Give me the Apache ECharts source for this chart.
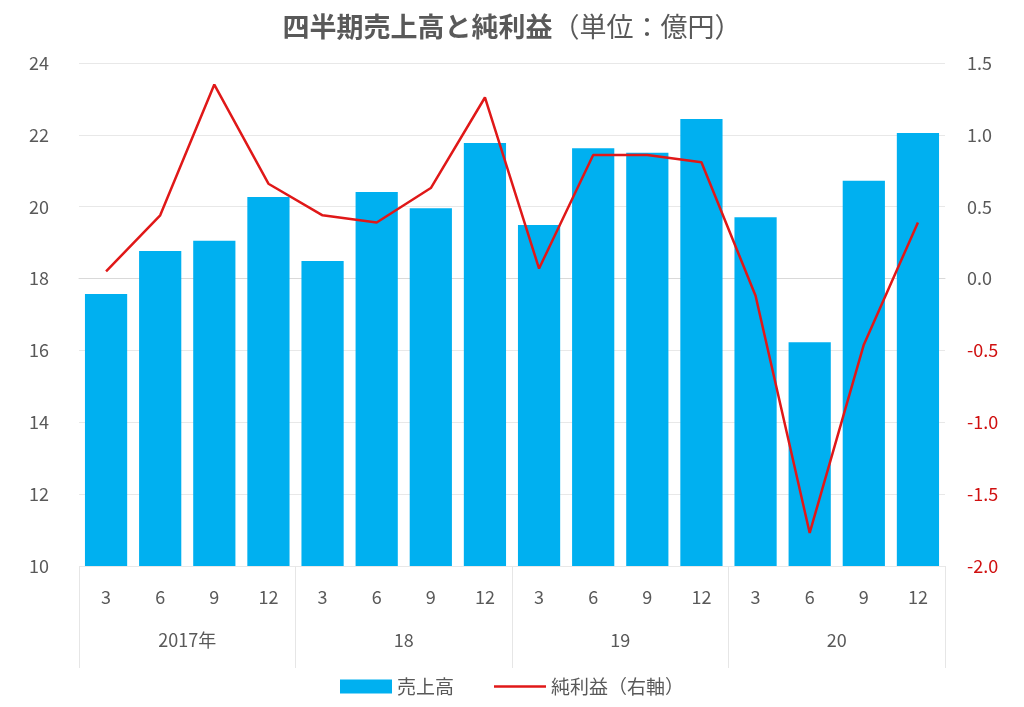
<!DOCTYPE html>
<html><head><meta charset="utf-8">
<script src="https://cdn.jsdelivr.net/npm/echarts@6/dist/echarts.min.js"></script>
<style>html,body{margin:0;padding:0;background:#fff}#c{width:1024px;height:707px}</style>
</head><body><div id="c"></div>
<script>
const months = ['3','6','9','12','3','6','9','12','3','6','9','12','3','6','9','12'];
const years = ['2017年','18','19','20'];
const sales = [17.57,18.77,19.05,20.27,18.49,20.41,19.96,21.77,19.49,21.63,21.5,22.44,19.71,16.23,20.72,22.05];
const profit = [0.05,0.44,1.35,0.66,0.44,0.39,0.63,1.26,0.07,0.86,0.86,0.81,-0.12,-1.77,-0.46,0.39];
const leftTicks = [10,24,2];
const rightTicks = [-2.0,1.5,0.5];
const FONT = '"Noto Sans CJK JP", sans-serif';
const chart = echarts.init(document.getElementById('c'));
chart.setOption({
  backgroundColor:'#fff',
  animation:false,
  textStyle:{fontFamily:FONT},
  title:{left:'center',top:8,
    text:'{b|四半期売上高と純利益}{n|（単位：億円）}',
    textStyle:{rich:{
      b:{fontFamily:FONT,fontSize:27,fontWeight:'bold',color:'#595959'},
      n:{fontFamily:FONT,fontSize:27,fontWeight:'normal',color:'#595959'}}}},
  legend:{bottom:6,left:'center',itemGap:40,symbolKeepAspect:true,
    textStyle:{fontFamily:FONT,fontSize:19,color:'#595959'},
    data:[{name:'売上高',icon:'rect'},{name:'純利益（右軸）',icon:'path://M0,0 H50 V2.6 H0 Z'}],
    itemWidth:52,itemHeight:14},
  grid:{left:79,right:79,top:63,bottom:141},
  xAxis:[
    {type:'category',data:months,position:'bottom',
     axisLine:{show:true,lineStyle:{color:'#d9d9d9'}},
     axisTick:{show:false},
     axisLabel:{fontFamily:FONT,fontSize:18,color:'#595959',margin:22}},
    {type:'category',data:years,position:'bottom',
     axisLine:{show:false},
     axisTick:{show:true,length:102,lineStyle:{color:'#e6e6e6'}},
     axisLabel:{fontFamily:FONT,fontSize:18,color:'#595959',margin:65}}
  ],
  yAxis:[
    {type:'value',min:leftTicks[0],max:leftTicks[1],interval:leftTicks[2],
     axisLine:{show:false},axisTick:{show:false},
     splitLine:{lineStyle:{color:'#e8e8e8'}},
     axisLabel:{fontFamily:FONT,fontSize:18,color:'#595959',margin:30}},
    {type:'value',min:rightTicks[0],max:rightTicks[1],interval:rightTicks[2],
     axisLine:{show:false},axisTick:{show:false},splitLine:{show:false},
     axisLabel:{fontFamily:FONT,fontSize:18,margin:22,
       formatter:v=>v.toFixed(1),
       color:v=>(Number(v)<0?'#d01010':'#595959')}}
  ],
  series:[
    {name:'売上高',type:'bar',xAxisIndex:0,yAxisIndex:0,data:sales,
     barCategoryGap:'22%',itemStyle:{color:'#00b0f0'}},
    {name:'純利益（右軸）',type:'line',xAxisIndex:0,yAxisIndex:1,data:profit,
     symbol:'none',lineStyle:{color:'#e01818',width:2.5},itemStyle:{color:'#e01818'}}
  ]
});
</script></body></html>
